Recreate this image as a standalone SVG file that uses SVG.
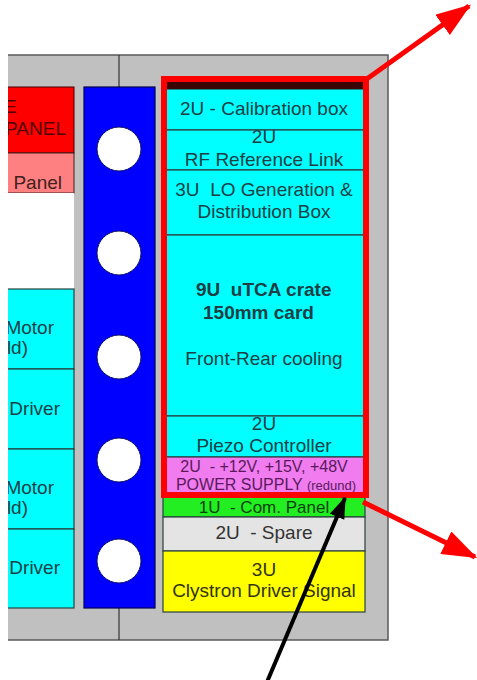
<svg xmlns="http://www.w3.org/2000/svg" width="477" height="680" viewBox="0 0 477 680">
<defs>
<style>
text{font-family:"Liberation Sans",Arial,sans-serif;font-size:19px;fill:#1c3e44}
.c{text-anchor:middle}
.e{text-anchor:end}
.b{font-weight:bold}
.box{stroke:#2a4040;stroke-width:1.2}
.cy{fill:#00ffff}
.hole{fill:#fff;stroke:#101060;stroke-width:1}
</style>
<clipPath id="lc"><rect x="8" y="0" width="76" height="680"/></clipPath>
<marker id="ar" viewBox="0 0 14 10" refX="13" refY="5" markerWidth="7" markerHeight="5" orient="auto" markerUnits="strokeWidth"><path d="M0,0 L14,5 L0,10 Z" fill="#ff0000"/></marker>
<marker id="ab" viewBox="0 0 14 10" refX="13" refY="5" markerWidth="5.5" markerHeight="4" orient="auto" markerUnits="strokeWidth"><path d="M0,0 L14,5 L0,10 Z" fill="#000"/></marker>
</defs>
<rect width="477" height="680" fill="#fff"/>
<g id="rack">
<rect x="8" y="55" width="380" height="585" fill="#c0c0c0"/>
<path d="M8,55 H388 V640 H8" fill="none" stroke="#5a5a5a" stroke-width="1.5"/>
<line x1="119" y1="55" x2="119" y2="88" stroke="#333" stroke-width="1.2"/>
<line x1="119" y1="608" x2="119" y2="640" stroke="#333" stroke-width="1.2"/>
</g>
<g id="left-panels" clip-path="url(#lc)">
<rect x="0" y="87" width="74" height="66" fill="#ff0000" stroke="#400000" stroke-width="1"/>
<text x="4" y="113" style="fill:#500000">E</text>
<text x="66" y="135" class="e" style="fill:#500000">PANEL</text>
<rect x="0" y="153" width="74" height="40" fill="#ff8080" stroke="#402020" stroke-width="1"/>
<text x="62" y="189" class="e" style="fill:#402020">Panel</text>
<rect x="0" y="193" width="74" height="96" fill="#fff"/>
<rect x="0" y="289" width="74" height="80" class="box cy"/>
<text x="54" y="334" class="e">Motor</text>
<text x="28" y="354" class="e">ld)</text>
<rect x="0" y="369" width="74" height="80" class="box cy"/>
<text x="60" y="415" class="e">Driver</text>
<rect x="0" y="449" width="74" height="80" class="box cy"/>
<text x="54" y="494" class="e">Motor</text>
<text x="28" y="514" class="e">ld)</text>
<rect x="0" y="529" width="74" height="79" class="box cy"/>
<text x="60" y="574" class="e">Driver</text>
</g>
<g id="blue-panel">
<rect x="84" y="87" width="71" height="521" fill="#0000ff" stroke="#000050" stroke-width="1.2"/>
<circle cx="119" cy="149" r="22" class="hole"/>
<circle cx="119" cy="253" r="22" class="hole"/>
<circle cx="119" cy="357" r="22" class="hole"/>
<circle cx="119" cy="460" r="22" class="hole"/>
<circle cx="119" cy="561" r="22" class="hole"/>
</g>
<g id="calibration">
<rect x="165" y="89" width="199" height="41" class="box cy"/>
<text x="264" y="115" class="c">2U - Calibration box</text>
</g>
<g id="rf-ref">
<rect x="165" y="130" width="199" height="40" class="box cy"/>
<text x="264" y="143" class="c">2U</text>
<text x="264" y="166" class="c">RF Reference Link</text>
</g>
<g id="lo-gen">
<rect x="165" y="170" width="199" height="65" class="box cy"/>
<text x="264" y="196" class="c" xml:space="preserve">3U  LO Generation &amp;</text>
<text x="264" y="218" class="c">Distribution Box</text>
</g>
<g id="utca">
<rect x="165" y="235" width="199" height="181" class="box cy"/>
<text x="196" y="296" class="b" xml:space="preserve">9U  uTCA crate</text>
<text x="203" y="319" class="b">150mm card</text>
<text x="264" y="365" class="c">Front-Rear cooling</text>
</g>
<g id="piezo">
<rect x="165" y="416" width="199" height="41" class="box cy"/>
<text x="264" y="430" class="c">2U</text>
<text x="264" y="452" class="c">Piezo Controller</text>
</g>
<g id="power">
<rect x="165" y="457" width="199" height="40" fill="#f07cf0" class="box"/>
<text x="264" y="472" class="c" style="font-size:16px;fill:#5a1a5a" xml:space="preserve">2U  - +12V, +15V, +48V</text>
<text x="266" y="490" class="c" style="font-size:16px;fill:#5a1a5a">POWER SUPPLY <tspan style="font-size:13px">(redund)</tspan></text>
</g>
<g id="com-panel">
<rect x="163" y="497" width="202" height="20" fill="#22ee22" class="box"/>
<text x="264" y="513" class="c" style="font-size:17px;fill:#0a400a" xml:space="preserve">1U  - Com. Panel</text>
</g>
<g id="spare">
<rect x="163" y="517" width="202" height="34" fill="#e4e4e4" class="box"/>
<text x="264" y="539" class="c" style="fill:#333" xml:space="preserve">2U  - Spare</text>
</g>
<g id="clystron">
<rect x="163" y="551" width="202" height="61" fill="#ffff00" class="box"/>
<text x="264" y="576" class="c" style="fill:#333310">3U</text>
<text x="264" y="597" class="c" style="fill:#333310">Clystron Driver Signal</text>
</g>
<g id="highlight">
<rect x="166" y="82" width="197" height="7" fill="#3a0404"/>
<rect x="164" y="79" width="202" height="416" fill="none" stroke="#ff0000" stroke-width="6"/>
</g>
<g id="connectors">
<line x1="364" y1="81" x2="469" y2="6" stroke="#ff0000" stroke-width="5" marker-end="url(#ar)"/>
<line x1="363" y1="502" x2="475" y2="557" stroke="#ff0000" stroke-width="5" marker-end="url(#ar)"/>
<line x1="267" y1="682" x2="345" y2="498" stroke="#000" stroke-width="4" marker-end="url(#ab)"/>
</g>
</svg>
